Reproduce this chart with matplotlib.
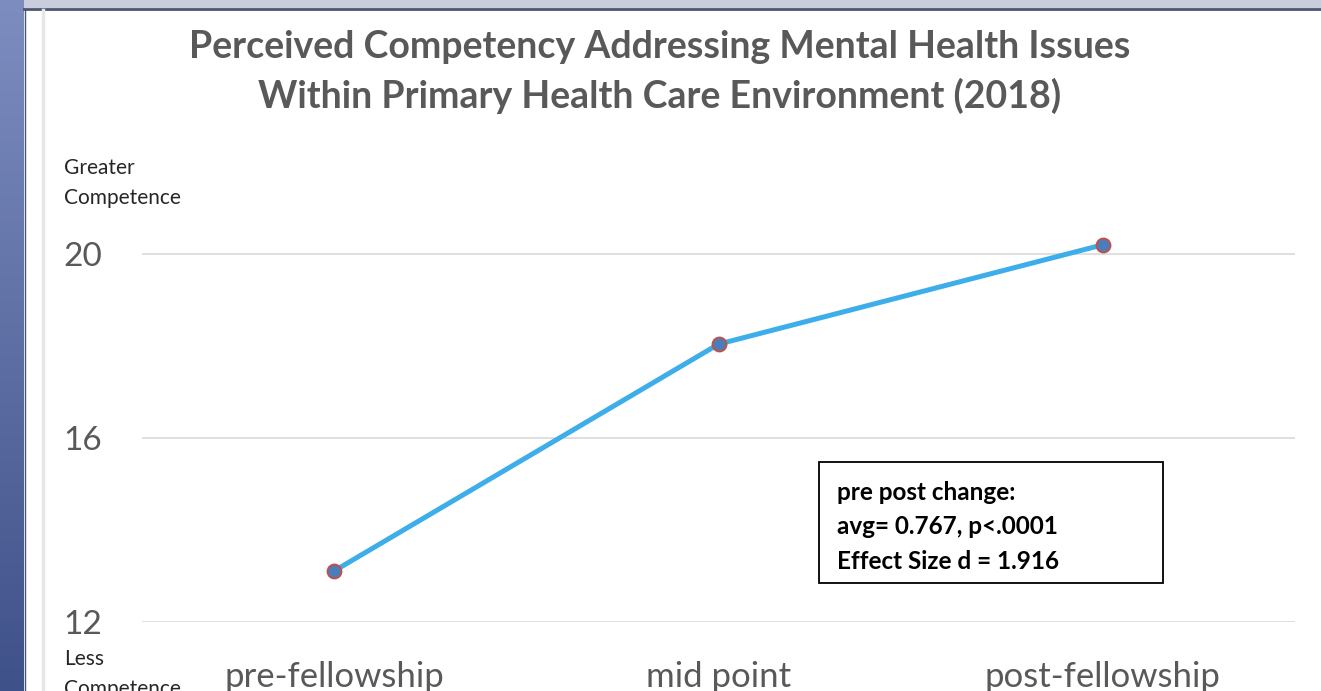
import numpy as np
import matplotlib.pyplot as plt
from matplotlib.patches import Rectangle
from matplotlib.colors import LinearSegmentedColormap

# data
stages = ['pre-fellowship', 'mid point', 'post-fellowship']
scores = [13.11, 18.04, 20.2]
y_ticks = [12, 16, 20]

title = 'Perceived Competency Addressing Mental Health Issues\nWithin Primary Health Care Environment (2018)'
note = 'pre post change:\navg= 0.767, p<.0001\nEffect Size d = 1.916'

plt.rcParams['font.family'] = ['Lato', 'DejaVu Sans']

W, H = 1321, 691
fig = plt.figure(figsize=(W / 100, H / 100), dpi=100)
fig.patch.set_facecolor('white')

# slide decoration: blue strip on the left, band on top
strip = fig.add_axes([0, 0, 24 / W, 1])
grad = np.linspace(0, 1, 256).reshape(-1, 1)
cm = LinearSegmentedColormap.from_list('strip', ['#7d8dc0', '#3f5189'])
strip.imshow(grad, aspect='auto', cmap=cm, extent=[0, 1, 0, 1], origin='upper')
strip.axis('off')
fig.patches.append(Rectangle((24 / W, 1 - 8 / H), 1, 8 / H, transform=fig.transFigure,
                             facecolor='#c8cedb', edgecolor='none'))
fig.lines.append(plt.Line2D([24 / W, 1], [1 - 9 / H, 1 - 9 / H], transform=fig.transFigure,
                            color='#4b5672', lw=2))
fig.lines.append(plt.Line2D([25 / W, 25 / W], [0, 1 - 9 / H], transform=fig.transFigure,
                            color='#4b5672', lw=1))
fig.lines.append(plt.Line2D([43 / W, 43 / W], [0, 1 - 10 / H], transform=fig.transFigure,
                            color='#e6e6e6', lw=2.5))

ax = fig.add_axes([142 / W, 69 / H, 1153 / W, 414 / H])
x = np.arange(len(stages))
ax.plot(x, scores, color='#3daeea', lw=3.6, zorder=3,
        marker='o', markersize=10, markerfacecolor='#4a7ebb',
        markeredgecolor='#c0504d', markeredgewidth=1.4)

ax.set_xlim(-0.5, len(stages) - 0.5)
ax.set_ylim(12, 21)
ax.set_yticks(y_ticks)
ax.set_xticks(x)
ax.set_xticklabels(stages)
ax.grid(axis='y', color='#d9d9d9', lw=1.2)
ax.set_axisbelow(True)
for s in ax.spines.values():
    s.set_visible(False)
ax.tick_params(axis='y', length=0, pad=29, labelsize=24, labelcolor='#595959')
ax.tick_params(axis='x', length=0, pad=28, labelsize=25, labelcolor='#595959')

fig.text(660 / W, 1 - 72 / H, title, ha='center', va='center', fontsize=27,
         fontweight='bold', color='#595959', linespacing=1.45)

fig.text(64 / W, 1 - 183 / H, 'Greater\nCompetence', ha='left', va='center',
         fontsize=15, color='#262626', linespacing=1.6)
fig.text(64 / W, 1 - 674 / H, 'Less\nCompetence', ha='left', va='center',
         fontsize=15, color='#262626', linespacing=1.6)

fig.patches.append(Rectangle((819 / W, 1 - 583 / H), 344 / W, 121 / H, transform=fig.transFigure,
                             facecolor='white', edgecolor='black', lw=1.3, zorder=5))
fig.text(837 / W, 1 - 527 / H, note, ha='left', va='center', fontsize=17.5,
         fontweight='bold', color='black', linespacing=1.6, zorder=6)

fig.savefig('out.png', dpi=100)
